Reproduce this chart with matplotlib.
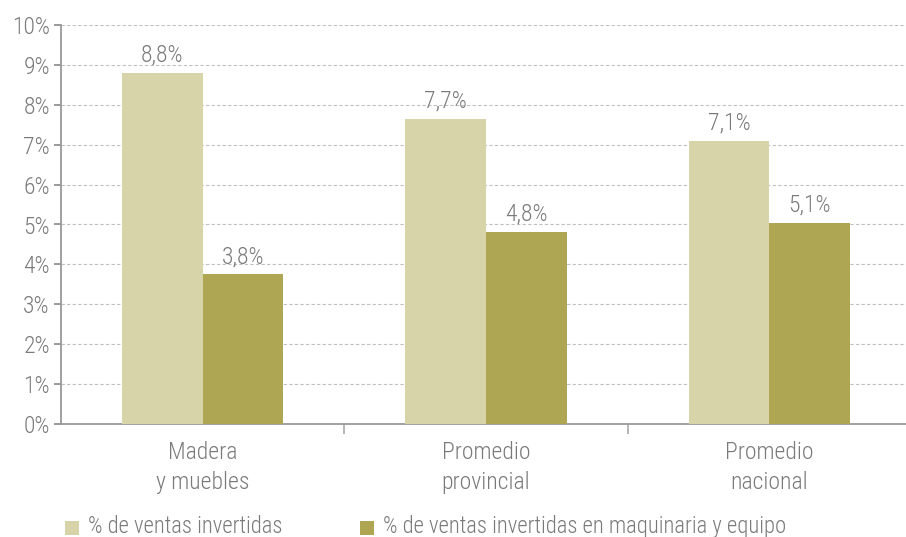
import matplotlib
matplotlib.use("Agg")
import matplotlib.pyplot as plt
from matplotlib.patches import Rectangle
import numpy as np

categories = ["Madera\ny muebles", "Promedio\nprovincial", "Promedio\nnacional"]
series_names = ["% de ventas invertidas", "% de ventas invertidas en maquinaria y equipo"]
ventas = [8.8, 7.65, 7.1]
maquinaria = [3.75, 4.82, 5.05]
ventas_labels = ["8,8%", "7,7%", "7,1%"]
maquinaria_labels = ["3,8%", "4,8%", "5,1%"]
yticks = list(range(0, 11))
ytick_labels = [f"{v}%" for v in yticks]

plt.rcParams["font.family"] = ["Roboto Condensed", "DejaVu Sans"]
plt.rcParams["font.weight"] = "light"

txt = "#7a7a7a"
c_light = "#d7d4aa"
c_dark = "#aea653"
FS = 17
FS_LEG = 16.3

W, H = 906, 537
fig = plt.figure(figsize=(W/100, H/100), dpi=100)
ax = fig.add_axes([61/W, 1-424/H, (911-61)/W, (424-25)/H])

x = np.arange(len(categories))
w = 0.285
b1 = ax.bar(x - w/2, ventas, w, color=c_light, zorder=3)
b2 = ax.bar(x + w/2, maquinaria, w, color=c_dark, zorder=3)

for bars, labs in ((b1, ventas_labels), (b2, maquinaria_labels)):
    for rect, lab in zip(bars, labs):
        ax.annotate(lab, (rect.get_x() + rect.get_width()/2, rect.get_height()),
                    xytext=(0, 8), textcoords="offset points", ha="center", va="baseline",
                    fontsize=FS, color=txt)

ax.set_xlim(-0.5, 2.5)
ax.set_ylim(0, 10)
ax.set_yticks(yticks)
ax.set_yticklabels(ytick_labels, fontsize=FS, color=txt)
ax.set_xticks([0.5, 1.5])
ax.set_xticklabels([])
ax.tick_params(axis="x", length=7, width=1.2, color="#aaaaaa", direction="out")
ax.tick_params(axis="y", length=5, width=1.2, color="#888888", direction="out", pad=3)

for i, c in enumerate(categories):
    ax.annotate(c, (i, 0), xycoords=("data", "axes fraction"),
                xytext=(0, -12), textcoords="offset points",
                ha="center", va="top", fontsize=FS, color=txt, linespacing=1.4)

ax.grid(axis="y", linestyle=(0, (3, 2)), color="#c0c0c0", linewidth=0.8, zorder=0)
for s in ["top", "right"]:
    ax.spines[s].set_visible(False)
for s in ["left", "bottom"]:
    ax.spines[s].set_color("#999999")
    ax.spines[s].set_linewidth(1.3)

# legend drawn in figure pixel positions
legend_items = [(65, c_light, series_names[0]), (360, c_dark, series_names[1])]
for x0, col, lab in legend_items:
    fig.patches.append(Rectangle((x0/W, 1-535/H), 14/W, 14/H, transform=fig.transFigure,
                                 facecolor=col, edgecolor="none"))
    fig.text((x0 + 23)/W, 1-533/H, lab, ha="left", va="baseline", fontsize=FS_LEG, color=txt)

fig.savefig("out.png", dpi=100)
